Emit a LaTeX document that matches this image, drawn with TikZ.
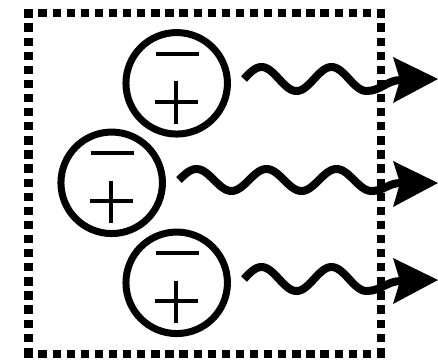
\documentclass[tikz,border=0pt]{standalone}
\begin{document}
\begin{tikzpicture}[x=1pt,y=-1pt,
  frame/.style={line width=8.3pt,dash pattern=on 8.3pt off 5.8pt,line cap=butt},
  dipole/.style={circle,draw,line width=7pt,minimum size=101.5pt,inner sep=0pt,outer sep=0pt},
  sign/.style={line width=4pt},
  wave/.style={line width=8pt,line cap=butt},
  head/.style={fill=black}]
\useasboundingbox (0,0) rectangle (438,362);
% waves
\draw[wave] plot[domain=0:1.75,samples=80,smooth] ({244+70*\x},{79-12*sin(360*\x)})
  .. controls (381,91) and (387,80) .. (401,80);
\draw[wave] plot[domain=0:2.75,samples=120,smooth] ({179+70*\x},{180-11*sin(360*\x)})
  .. controls (384,191) and (388,183) .. (401,183);
\draw[wave] plot[domain=0:1.75,samples=80,smooth] ({244+70*\x},{279-12*sin(360*\x)})
  .. controls (381,291) and (387,281) .. (401,281);
% arrow heads
\fill[head] (393,57) -- (438,79) -- (393,103) -- (400,80) -- cycle;
\fill[head] (393,161) -- (438,183) -- (393,207) -- (400,183) -- cycle;
\fill[head] (393,258) -- (438,280) -- (393,304) -- (400,281) -- cycle;
% dotted frame
\draw[frame] (24.3,12.7) -- (385,12.7);
\draw[frame] (24.3,353.7) -- (385,353.7);
\draw[frame] (28.5,9.3) -- (28.5,357.3);
\draw[frame] (380.8,9.3) -- (380.8,357.3);
% dipoles
\node[dipole] (c1) at (176.7,83.3) {};
\node[dipole] (c2) at (111.7,182.8) {};
\node[dipole] (c3) at (176.7,282.8) {};
\foreach \c in {c1,c2,c3}{
  \draw[sign] ([shift={(-21,-29.5)}]\c.center) -- ([shift={(22,-29.5)}]\c.center);
  \draw[sign] ([shift={(-21.5,18.6)}]\c.center) -- ([shift={(21.5,18.6)}]\c.center);
  \draw[sign] ([shift={(-0.4,-2)}]\c.center) -- ([shift={(-0.4,40.3)}]\c.center);
}
\end{tikzpicture}
\end{document}
